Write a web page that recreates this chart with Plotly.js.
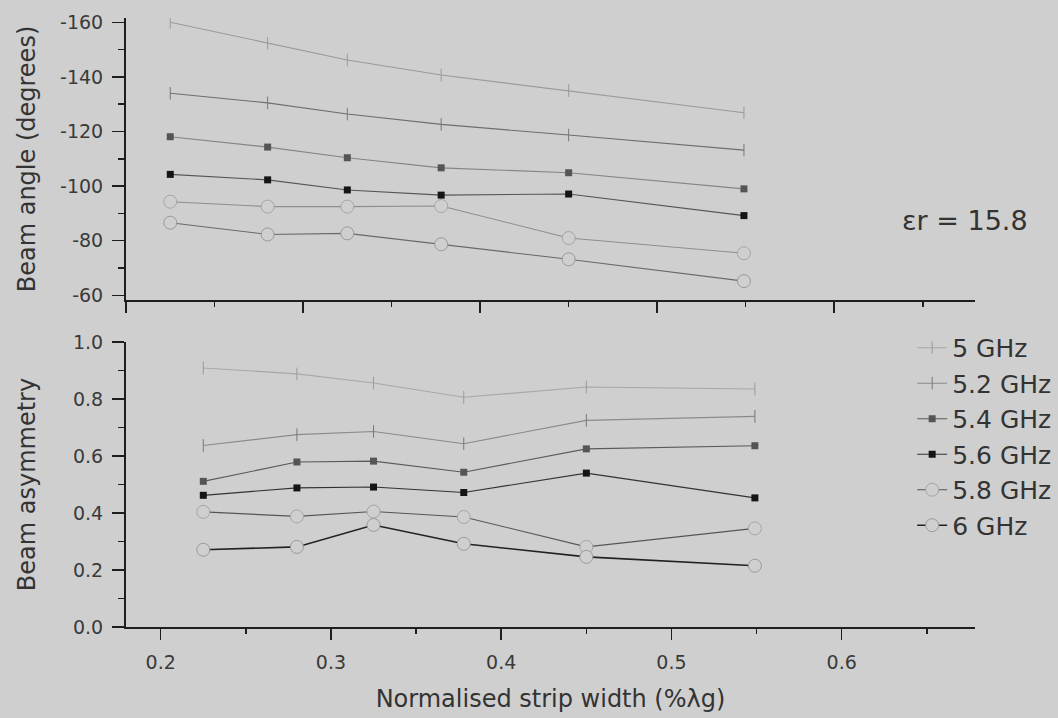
<!DOCTYPE html>
<html>
<head>
<meta charset="utf-8">
<script src="https://cdn.plot.ly/plotly-3.0.1.min.js"></script>
<style>
  html, body { margin: 0; padding: 0; background: #cfcfcf; }
  #chart { width: 1058px; height: 718px; }
</style>
</head>
<body>
<div id="chart"></div>
<script>
// Normalised strip width (shared by both panels)
const stripWidth = [0.225, 0.28, 0.325, 0.378, 0.45, 0.549];

const freqLabels = ['5 GHz', '5.2 GHz', '5.4 GHz', '5.6 GHz', '5.8 GHz', '6 GHz'];

// Beam angle (degrees) per frequency
const angle5   = [-160.0, -152.3, -146.2, -140.7, -135.0, -126.9];
const angle52  = [-134.0, -130.5, -126.4, -122.6, -118.7, -113.2];
const angle54  = [-118.1, -114.3, -110.4, -106.7, -104.9, -99.0];
const angle56  = [-104.3, -102.3, -98.6, -96.7, -97.1, -89.2];
const angle58  = [-94.3, -92.5, -92.5, -92.7, -81.0, -75.4];
const angle6   = [-86.6, -82.3, -82.7, -78.7, -73.2, -65.2];

// Beam asymmetry per frequency
const asym5    = [0.909, 0.888, 0.856, 0.806, 0.842, 0.835];
const asym52   = [0.637, 0.675, 0.686, 0.643, 0.725, 0.739];
const asym54   = [0.511, 0.579, 0.582, 0.543, 0.625, 0.636];
const asym56   = [0.462, 0.488, 0.491, 0.472, 0.540, 0.453];
const asym58   = [0.404, 0.388, 0.405, 0.386, 0.281, 0.346];
const asym6    = [0.271, 0.281, 0.358, 0.292, 0.246, 0.215];

// Tick labels
const angleTicks = [-160, -140, -120, -100, -80, -60];
const asymTicks  = [0.0, 0.2, 0.4, 0.6, 0.8, 1.0];
const widthTicks = [0.2, 0.3, 0.4, 0.5, 0.6];

const BG = '#cfcfcf';
const FONT = 'DejaVu Sans, Arial, sans-serif';

// marker / line style per frequency
const styles = [
  { symbol: 'line-ns', size: 9,  mcol: '#9a9a9a', topLine: '#9a9a9a', botLine: '#a8a8a8', open: false },
  { symbol: 'line-ns', size: 9,  mcol: '#777777', topLine: '#6e6e6e', botLine: '#8a8a8a', open: false },
  { symbol: 'square',  size: 7,  mcol: '#555555', topLine: '#858585', botLine: '#5a5a5a', open: false },
  { symbol: 'square',  size: 7,  mcol: '#151515', topLine: '#555555', botLine: '#333333', open: false },
  { symbol: 'circle',  size: 13, mcol: '#a6a6a6', topLine: '#8e8e8e', botLine: '#555555', open: true },
  { symbol: 'circle',  size: 13, mcol: '#9a9a9a', topLine: '#6a6a6a', botLine: '#222222', open: true }
];

const angleSeries = [angle5, angle52, angle54, angle56, angle58, angle6];
const asymSeries  = [asym5, asym52, asym54, asym56, asym58, asym6];

function markerFor(s) {
  if (s.symbol === 'line-ns') {
    return { symbol: 'line-ns', size: s.size, line: { color: s.mcol, width: 1 } };
  }
  if (s.open) {
    return { symbol: 'circle', size: s.size, color: BG, line: { color: s.mcol, width: 1 } };
  }
  return { symbol: 'square', size: s.size, color: s.mcol, line: { width: 0 } };
}

const traces = [];
// lower panel first so that its entries drive the legend order
asymSeries.forEach((ys, i) => {
  const s = styles[i];
  traces.push({
    x: stripWidth, y: ys, xaxis: 'x2', yaxis: 'y2',
    type: 'scatter', mode: 'lines+markers', name: freqLabels[i],
    line: { color: s.botLine, width: i === 5 ? 1.6 : 1.1 },
    marker: markerFor(s), showlegend: true
  });
});
angleSeries.forEach((ys, i) => {
  const s = styles[i];
  traces.push({
    x: stripWidth, y: ys, xaxis: 'x', yaxis: 'y',
    type: 'scatter', mode: 'lines+markers', name: freqLabels[i],
    line: { color: s.topLine, width: 1.1 },
    marker: markerFor(s), showlegend: false
  });
});

const axisCommon = {
  showline: true, linecolor: '#1e1e1e', linewidth: 2,
  showgrid: false, zeroline: false,
  ticks: 'outside', tickcolor: '#1e1e1e', tickwidth: 1.5,
  tickfont: { family: FONT, size: 19, color: '#3a3a3a' }
};

const layout = {
  width: 1058, height: 718,
  paper_bgcolor: BG, plot_bgcolor: BG,
  margin: { l: 126, r: 83, t: 18, b: 91, autoexpand: false },
  showlegend: true,
  legend: {
    x: 0.926, y: 0.496, xanchor: 'left', yanchor: 'top',
    bgcolor: 'rgba(0,0,0,0)', borderwidth: 0,
    font: { family: FONT, size: 25, color: '#333333' },
    itemwidth: 30, tracegroupgap: 0
  },
  xaxis: Object.assign({}, axisCommon, {
    domain: [0, 1], anchor: 'y', range: [0.2, 0.6795],
    tickmode: 'linear', tick0: 0.2, dtick: 0.1, ticklen: 11,
    showticklabels: false,
    minor: { ticks: 'outside', ticklen: 5, tickwidth: 1.5, tickcolor: '#1e1e1e', tickmode: 'linear', tick0: 0.2, dtick: 0.05 }
  }),
  yaxis: Object.assign({}, axisCommon, {
    domain: [0.5369, 1], anchor: 'x', range: [-58.28, -161.58],
    tickmode: 'array', tickvals: angleTicks, ticktext: angleTicks.map(v => String(v)),
    ticklen: 12, ticklabelstandoff: 5,
    minor: { ticks: 'outside', ticklen: 6, tickwidth: 1.5, tickcolor: '#1e1e1e', tickmode: 'linear', tick0: -160, dtick: 10 },
    title: { text: 'Beam angle (degrees)', standoff: 18, font: { family: FONT, size: 24, color: '#333333' } }
  }),
  xaxis2: Object.assign({}, axisCommon, {
    domain: [0, 1], anchor: 'y2', range: [0.1796, 0.6783],
    tickmode: 'array', tickvals: widthTicks, ticktext: widthTicks.map(v => v.toFixed(1)),
    ticklen: 11, ticklabelstandoff: 6,
    minor: { ticks: 'outside', ticklen: 5, tickwidth: 1.5, tickcolor: '#1e1e1e', tickmode: 'linear', tick0: 0.2, dtick: 0.05 },
    title: { text: 'Normalised strip width (%λg)', standoff: 18, font: { family: FONT, size: 24, color: '#333333' } }
  }),
  yaxis2: Object.assign({}, axisCommon, {
    domain: [0, 0.468], anchor: 'x2', range: [0, 1],
    tickmode: 'array', tickvals: asymTicks, ticktext: asymTicks.map(v => v.toFixed(1)),
    ticklen: 12, ticklabelstandoff: 5,
    minor: { ticks: 'outside', ticklen: 6, tickwidth: 1.5, tickcolor: '#1e1e1e', tickmode: 'linear', tick0: 0, dtick: 0.1 },
    title: { text: 'Beam asymmetry', standoff: 31, font: { family: FONT, size: 24, color: '#333333' } }
  }),
  annotations: [{
    xref: 'paper', yref: 'paper', x: 0.988, y: 0.668,
    xanchor: 'center', yanchor: 'middle', showarrow: false,
    text: 'εr = 15.8',
    font: { family: FONT, size: 27, color: '#333333' }
  }]
};

Plotly.newPlot('chart', traces, layout, { displayModeBar: false, staticPlot: true });
</script>
</body>
</html>
